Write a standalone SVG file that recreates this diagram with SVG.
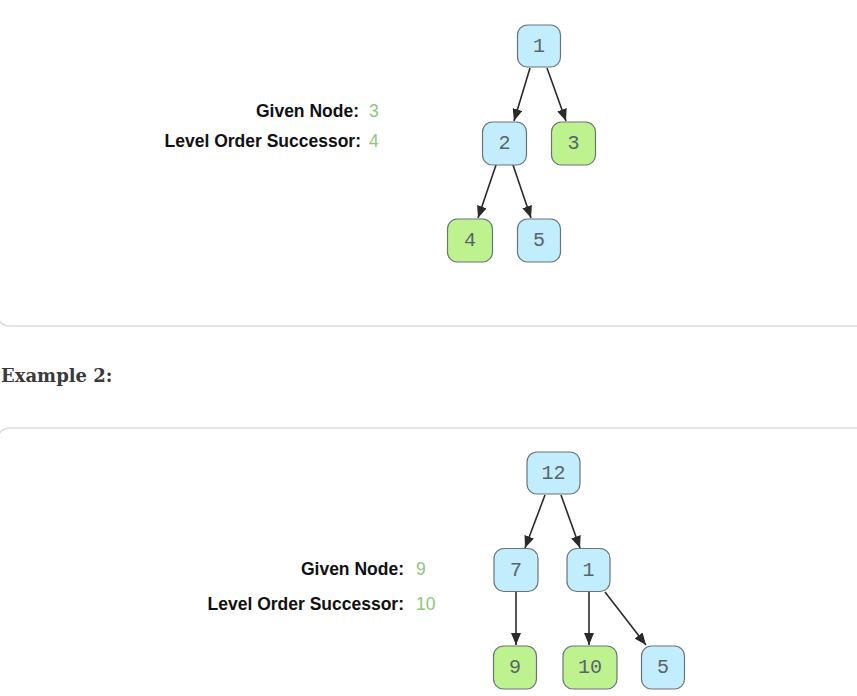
<svg xmlns="http://www.w3.org/2000/svg" width="857" height="696" viewBox="0 0 857 696">
<defs>
<style>
.panel{fill:#ffffff;stroke:#dcdcdc;stroke-width:1.5}
.nb{fill:#c2edfd;stroke:#6b7478;stroke-width:1.2}
.ng{fill:#bdf28f;stroke:#6b7478;stroke-width:1.2}
.nt{font-family:"Liberation Mono","DejaVu Sans Mono",monospace;font-size:20px;fill:#5a6468;text-anchor:middle;dominant-baseline:central}
.lbl{font-family:"Liberation Sans",Arial,sans-serif;font-size:17.5px;font-weight:bold;fill:#111111;text-anchor:end}
.val{font-family:"Liberation Sans",Arial,sans-serif;font-size:17.5px;fill:#8cc67c}
.hd{font-family:"DejaVu Serif","Liberation Serif",serif;font-size:18px;font-weight:bold;fill:#3a3a3a}
.edge{stroke:#2a2a2a;stroke-width:1.6;fill:none;marker-end:url(#arr)}
</style>
<marker id="arr" viewBox="0 0 12 10" refX="12" refY="5" markerWidth="12" markerHeight="10" orient="auto" markerUnits="userSpaceOnUse">
<path d="M0,0 L12,5 L0,10 z" fill="#2a2a2a"/>
</marker>
</defs>
<rect width="857" height="696" fill="#ffffff"/>
<rect class="panel" x="-2" y="-20" width="880" height="346" rx="11"/>
<rect class="panel" x="-2" y="428" width="880" height="300" rx="11"/>
<text class="hd" x="1" y="382">Example 2:</text>

<g id="labels1">
<text class="lbl" x="359" y="117">Given Node:</text>
<text class="val" x="369" y="117">3</text>
<text class="lbl" x="361" y="147">Level Order Successor:</text>
<text class="val" x="369" y="147">4</text>
</g>
<g id="labels2">
<text class="lbl" x="404" y="575">Given Node:</text>
<text class="val" x="416" y="575">9</text>
<text class="lbl" x="404" y="610">Level Order Successor:</text>
<text class="val" x="416" y="610">10</text>
</g>

<g id="connectors">
<line class="edge" x1="530" y1="68" x2="514" y2="121"/>
<line class="edge" x1="547" y1="68" x2="566" y2="121"/>
<line class="edge" x1="496" y1="165" x2="478" y2="218"/>
<line class="edge" x1="513" y1="165" x2="531" y2="218"/>
<line class="edge" x1="545" y1="495" x2="525" y2="548"/>
<line class="edge" x1="561" y1="495" x2="580" y2="548"/>
<line class="edge" x1="516" y1="592" x2="516" y2="645"/>
<line class="edge" x1="589" y1="592" x2="589" y2="645"/>
<line class="edge" x1="605" y1="592" x2="646" y2="645"/>
</g>

<g id="t1n1"><rect class="nb" x="517.5" y="25" width="43" height="42" rx="10"/><text class="nt" x="539" y="46">1</text></g>
<g id="t1n2"><rect class="nb" x="482.5" y="122" width="44" height="43" rx="10"/><text class="nt" x="504.5" y="143.5">2</text></g>
<g id="t1n3"><rect class="ng" x="551.5" y="122" width="44" height="43" rx="10"/><text class="nt" x="573.5" y="143.5">3</text></g>
<g id="t1n4"><rect class="ng" x="447.5" y="219" width="45" height="43" rx="10"/><text class="nt" x="470" y="240.5">4</text></g>
<g id="t1n5"><rect class="nb" x="517.5" y="219" width="43" height="43" rx="10"/><text class="nt" x="539" y="240.5">5</text></g>

<g id="t2n12"><rect class="nb" x="527" y="452" width="53" height="42" rx="10"/><text class="nt" x="553.5" y="473">12</text></g>
<g id="t2n7"><rect class="nb" x="494" y="548.5" width="44" height="43" rx="10"/><text class="nt" x="516" y="570">7</text></g>
<g id="t2n1"><rect class="nb" x="567" y="548.5" width="43" height="43" rx="10"/><text class="nt" x="588.5" y="570">1</text></g>
<g id="t2n9"><rect class="ng" x="493.5" y="646" width="43" height="43" rx="10"/><text class="nt" x="515" y="667.5">9</text></g>
<g id="t2n10"><rect class="ng" x="563" y="646" width="54" height="43" rx="10"/><text class="nt" x="590" y="667.5">10</text></g>
<g id="t2n5"><rect class="nb" x="641.5" y="646" width="43" height="43" rx="10"/><text class="nt" x="663" y="667.5">5</text></g>
</svg>
